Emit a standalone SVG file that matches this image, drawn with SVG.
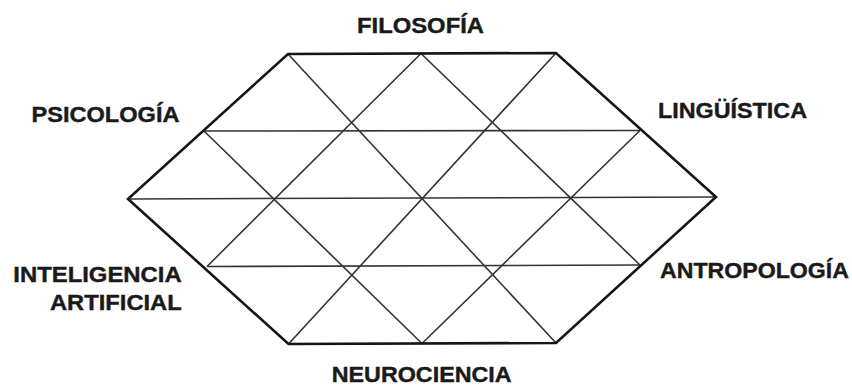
<svg xmlns="http://www.w3.org/2000/svg" width="852" height="385" viewBox="0 0 852 385">
  <style>
    .lbl { font-family: "Liberation Sans", Arial, sans-serif; font-weight: bold; font-size: 22px; fill: #1a1a1a; stroke: #1a1a1a; stroke-width: 0.4; }
    .edge { fill: none; stroke: #151515; stroke-width: 2.6; stroke-linejoin: miter; }
    .grid { fill: none; stroke: #333333; stroke-width: 1.6; }
  </style>
  <rect width="852" height="385" fill="#ffffff"/>
  <g id="grid">
    <g id="inner-lines">
      <line class="grid" x1="204" y1="131" x2="640" y2="130.5"/>
      <line class="grid" x1="129" y1="199" x2="715" y2="197"/>
      <line class="grid" x1="207" y1="266.5" x2="640" y2="265"/>
      <line class="grid" x1="204" y1="131" x2="422" y2="343.5"/>
      <line class="grid" x1="288" y1="54" x2="556" y2="343"/>
      <line class="grid" x1="421" y1="53.5" x2="640" y2="265"/>
      <line class="grid" x1="421" y1="53.5" x2="207" y2="266.5"/>
      <line class="grid" x1="556" y1="53" x2="288.5" y2="344"/>
      <line class="grid" x1="640" y1="130.5" x2="422" y2="343.5"/>
    </g>
    <polygon id="hexagon" class="edge" points="288,54 556,53 716,197 556,343 288.5,344 128,199"/>
  </g>
  <g id="filosofia"><text class="lbl" x="357" y="32.7" textLength="127" lengthAdjust="spacingAndGlyphs">FILOSOFÍA</text></g>
  <g id="psicologia"><text class="lbl" x="31.5" y="121.7" textLength="148" lengthAdjust="spacingAndGlyphs">PSICOLOGÍA</text></g>
  <g id="linguistica"><text class="lbl" x="658" y="118.3" textLength="149" lengthAdjust="spacingAndGlyphs">LINGÜÍSTICA</text></g>
  <g id="inteligencia-artificial">
    <text class="lbl" x="13.3" y="281.7" textLength="168.4" lengthAdjust="spacingAndGlyphs">INTELIGENCIA</text>
    <text class="lbl" x="50" y="310" textLength="131.7" lengthAdjust="spacingAndGlyphs">ARTIFICIAL</text>
  </g>
  <g id="antropologia"><text class="lbl" x="660" y="278.3" textLength="189" lengthAdjust="spacingAndGlyphs">ANTROPOLOGÍA</text></g>
  <g id="neurociencia"><text class="lbl" x="331.7" y="381.7" textLength="180" lengthAdjust="spacingAndGlyphs">NEUROCIENCIA</text></g>
</svg>
